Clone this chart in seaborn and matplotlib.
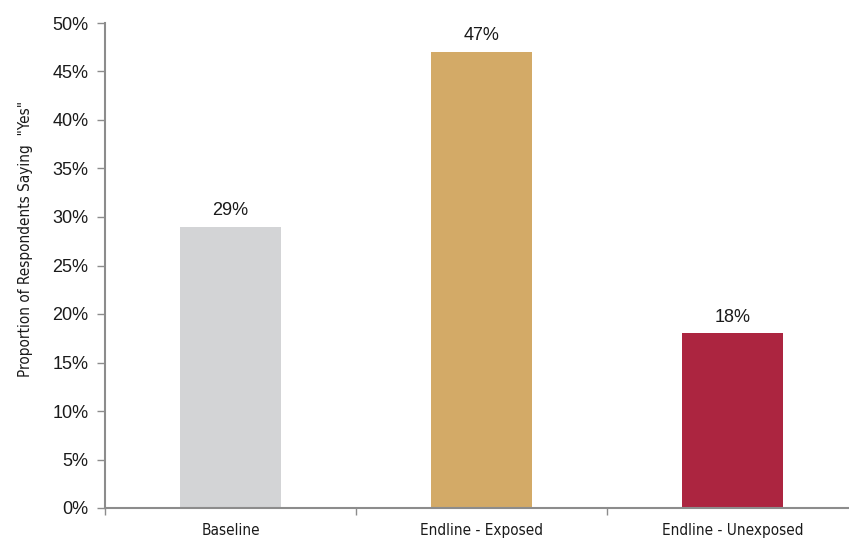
import matplotlib
matplotlib.use("Agg")
import matplotlib.pyplot as plt
import seaborn as sns
import pandas as pd
from matplotlib.ticker import FuncFormatter, FixedLocator

categories = ["Baseline", "Endline - Exposed", "Endline - Unexposed"]
values = [29, 47, 18]
colors = ["#D3D4D6", "#D3AA67", "#AC2540"]
yticks = [0, 5, 10, 15, 20, 25, 30, 35, 40, 45, 50]

sns.set_theme(style="white")
plt.rcParams['font.family'] = ['Liberation Sans', 'DejaVu Sans']

df = pd.DataFrame({"cat": categories, "val": values})

fig = plt.figure(figsize=(8.49, 5.42), dpi=100)
ax = fig.add_axes([105/849, 34/542, 753/849, 485/542])

sns.barplot(data=df, x="cat", y="val", hue="cat", palette=colors, width=0.4,
            legend=False, ax=ax, saturation=1, linewidth=0)

ax.set_xlim(-0.5, 2.5)
ax.set_ylim(0, 50)
ax.set_yticks(yticks)
ax.yaxis.set_major_formatter(FuncFormatter(lambda v, p: f"{int(v)}%"))

for s in ["top", "right"]:
    ax.spines[s].set_visible(False)
for s in ["left", "bottom"]:
    ax.spines[s].set_color("#8C8C8C")
    ax.spines[s].set_linewidth(1.5)

ax.tick_params(axis="y", which="major", left=True, length=6, width=1, color="#8C8C8C",
               labelsize=13, pad=6, labelcolor="#1a1a1a")
ax.tick_params(axis="x", which="major", bottom=False, length=0, pad=11)
ax.xaxis.set_minor_locator(FixedLocator([-0.5, 0.5, 1.5, 2.5]))
ax.tick_params(axis="x", which="minor", bottom=True, length=5, width=1, color="#8C8C8C")

narrow = ['DejaVu Sans']
for lbl in ax.get_xticklabels():
    lbl.set_family(narrow)
    lbl.set_stretch('condensed')
    lbl.set_fontsize(11)
    lbl.set_color("#1a1a1a")

ax.set_xlabel("")
ax.set_ylabel('Proportion of Respondents Saying  "Yes"', family=narrow, fontstretch='condensed',
              fontsize=11, color="#1a1a1a")
ax.yaxis.set_label_coords(-0.0956, 0.555)

for i, v in enumerate(values):
    ax.text(i, v + 0.8, f"{v}%", ha="center", va="bottom", fontsize=13, color="#1a1a1a")

fig.savefig("out.png", dpi=100)
